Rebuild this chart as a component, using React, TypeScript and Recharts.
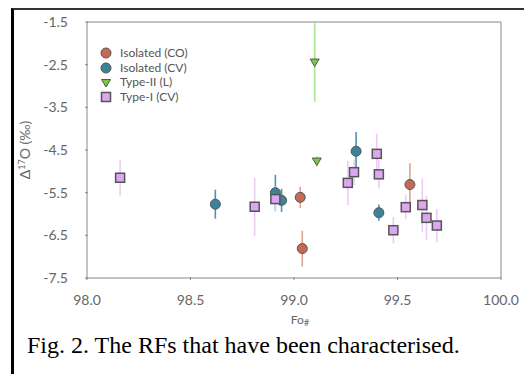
import React from 'react';
import { ScatterChart, Scatter, XAxis, YAxis, ErrorBar, ReferenceLine } from 'recharts';

// Isolated (CO)
const coFo = [99.03, 99.04, 99.56];
const coD17 = [-5.61, -6.81, -5.31];
const coErr = [0.25, 0.42, 0.5];

// Isolated (CV)
const cvFo = [98.62, 98.91, 98.94, 99.3, 99.41];
const cvD17 = [-5.77, -5.5, -5.68, -4.53, -5.97];
const cvErr = [0.34, 0.42, 0.27, 0.45, 0.19];

// Type-II (L)
const lFo = [99.1, 99.11];
const lD17 = [-2.45, -4.77];
const lErr = [0.92, 0.12];

// Type-I (CV)
const t1Fo = [98.16, 98.81, 98.91, 99.26, 99.29, 99.4, 99.41, 99.48, 99.54, 99.62, 99.64, 99.69];
const t1D17 = [-5.15, -5.83, -5.65, -5.27, -5.02, -4.59, -5.07, -6.38, -5.84, -5.79, -6.09, -6.27];
const t1Err = [0.42, 0.68, 0.3, 0.52, 0.3, 0.47, 0.33, 0.31, 0.28, 0.63, 0.52, 0.39];

const xTicks = [98.0, 98.5, 99.0, 99.5, 100.0];
const yTicks = [-1.5, -2.5, -3.5, -4.5, -5.5, -6.5, -7.5];

const rows = (xs: number[], ys: number[], es: number[]) =>
  xs.map((x, i) => ({ x, y: ys[i], e: es[i] }));

const RED = '#c26a55';
const BLUE = '#3b8399';
const GREEN = '#7ac943';
const PINK = '#dca6f0';
const EDGE = '#555';
const FONT = 'Lato, "Liberation Sans", sans-serif';

const Marker = ({ kind, cx, cy, fill }: { kind: string; cx: number; cy: number; fill: string }) => {
  if (kind === 'circle') return <circle cx={cx} cy={cy} r={5} fill={fill} stroke={EDGE} strokeWidth={1} />;
  if (kind === 'square')
    return <rect x={cx - 4.5} y={cy - 4.5} width={9} height={9} fill={fill} stroke={EDGE} strokeWidth={1.5} />;
  return (
    <polygon
      points={`${cx - 4.5},${cy - 3.5} ${cx + 4.5},${cy - 3.5} ${cx},${cy + 4}`}
      fill={fill}
      stroke={EDGE}
      strokeWidth={1}
    />
  );
};

const series = [
  { name: 'Isolated (CO)', data: rows(coFo, coD17, coErr), kind: 'circle', fill: RED, bar: '#dba393' },
  { name: 'Isolated (CV)', data: rows(cvFo, cvD17, cvErr), kind: 'circle', fill: BLUE, bar: '#4c95ab' },
  { name: 'Type-II (L)', data: rows(lFo, lD17, lErr), kind: 'tri', fill: GREEN, bar: '#ace38e' },
  { name: 'Type-I (CV)', data: rows(t1Fo, t1D17, t1Err), kind: 'square', fill: PINK, bar: '#ecccf6' },
];

const YTick = (props: any) => {
  const { x, y, payload } = props;
  return (
    <g>
      <line x1={x} x2={x + 3} y1={y} y2={y} stroke="#888" />
      <text x={x - 17} y={y} dy={5} textAnchor="end" fill="#666" fontSize={14} fontFamily={FONT}>
        {payload.value.toFixed(1)}
      </text>
    </g>
  );
};

const XTick = (props: any) => {
  const { x, y, payload } = props;
  return (
    <g>
      <line x1={x} x2={x} y1={y} y2={y - 3} stroke="#888" />
      <text x={x} y={y + 25} textAnchor="middle" fill="#666" fontSize={14} fontFamily={FONT}>
        {payload.value.toFixed(1)}
      </text>
    </g>
  );
};

const LegendBox = () => (
  <div
    style={{
      position: 'absolute',
      left: 98,
      top: 46,
      fontFamily: FONT,
      fontSize: 12,
      color: '#555',
      lineHeight: '14.7px',
    }}
  >
    {series.map((s) => (
      <div key={s.name} style={{ display: 'flex', alignItems: 'center' }}>
        <svg width={22} height={14}>
          <Marker kind={s.kind} cx={8} cy={7} fill={s.fill} />
        </svg>
        <span>{s.name}</span>
      </div>
    ))}
  </div>
);

export default function App() {
  return (
    <div style={{ position: 'absolute', left: 0, top: 0, width: 524, height: 374, background: '#fff' }}>
      <div
        style={{
          position: 'absolute',
          left: 11,
          top: 8,
          width: 520,
          height: 380,
          borderLeft: '3px solid #000',
          borderTop: '2px solid #333',
        }}
      />
      <div style={{ position: 'absolute', left: 0, top: 0 }}>
        <ScatterChart width={524} height={374} margin={{ top: 22, right: 23, bottom: 66, left: 0 }}>
          <XAxis
            type="number"
            dataKey="x"
            domain={[98, 100]}
            ticks={xTicks}
            interval={0}
            height={30}
            tickLine={false}
            tickSize={0}
            tick={<XTick />}
            axisLine={{ stroke: '#888' }}
            label={{
              content: () => (
                <text x={300} y={324} textAnchor="middle" fill="#666" fontSize={12} fontFamily={FONT}>
                  Fo<tspan fontSize={9} dy={2}>#</tspan>
                </text>
              ),
            }}
          />
          <YAxis
            type="number"
            dataKey="y"
            domain={[-7.5, -1.5]}
            ticks={yTicks}
            interval={0}
            width={87}
            tickLine={false}
            tickSize={0}
            tick={<YTick />}
            axisLine={{ stroke: '#888' }}
            label={{
              content: () => (
                <text
                  transform="translate(30,150) rotate(-90)"
                  textAnchor="middle"
                  fill="#666"
                  fontSize={14}
                  fontFamily={FONT}
                >
                  Δ<tspan fontSize={9} dy={-5}>17</tspan>
                  <tspan dy={5}>O (‰)</tspan>
                </text>
              ),
            }}
          />
          <ReferenceLine y={-1.5} stroke="#888" />
          <ReferenceLine x={100} stroke="#888" />
          {series.map((s) => (
            <Scatter
              key={s.name}
              name={s.name}
              data={s.data}
              isAnimationActive={false}
              shape={(p: any) => <Marker kind={s.kind} cx={p.cx} cy={p.cy} fill={s.fill} />}
            >
              <ErrorBar dataKey="e" direction="y" width={0} stroke={s.bar} strokeWidth={1.6} />
            </Scatter>
          ))}
        </ScatterChart>
      </div>
      <LegendBox />
      <div
        style={{
          position: 'absolute',
          left: 27,
          top: 331,
          fontFamily: '"Liberation Serif", "Times New Roman", serif',
          fontSize: 24,
          lineHeight: '28px',
          color: '#000',
          whiteSpace: 'nowrap',
        }}
      >
        Fig. 2. The RFs that have been characterised.
      </div>
    </div>
  );
}
